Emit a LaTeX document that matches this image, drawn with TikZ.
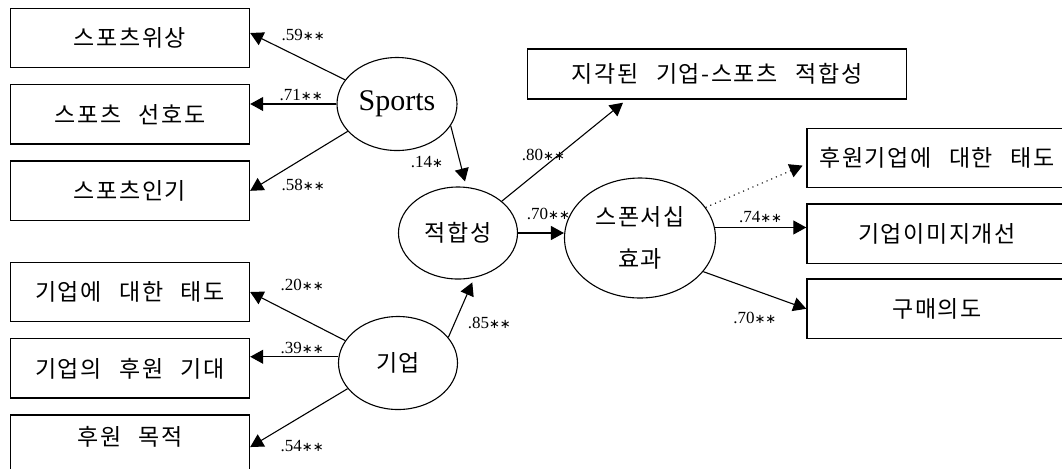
\documentclass[tikz,border=0pt]{standalone}
\usepackage{fontspec}
\setmainfont{Liberation Serif}
\newfontfamily\kr[LetterSpace=7,WordSpace=2.6]{Noto Sans CJK KR}
\newfontfamily\symb{DejaVu Sans}
\newcommand{\sigtwo}{{\symb\fontsize{6.5}{8}\selectfont ∗∗}}
\newcommand{\sigone}{{\symb\fontsize{6.5}{8}\selectfont ∗}}
\usetikzlibrary{shapes.geometric, arrows.meta, positioning}

\begin{document}
\begin{tikzpicture}[x=0.5pt, y=-0.5pt,
  measure/.style={draw, line width=0.7pt, minimum width=119.5pt, minimum height=29.75pt,
    inner sep=0pt, align=center, font=\kr\fontsize{11.5}{13}\selectfont},
  factor/.style={draw, ellipse, line width=0.55pt, inner sep=0pt, align=center,
    font=\kr\fontsize{11.5}{21}\selectfont},
  arrow/.style={-{Triangle[length=6.5pt, width=7pt]}, line width=0.55pt},
  coef/.style={font=\fontsize{8.5}{10}\selectfont, inner sep=0pt}
]
\useasboundingbox (0,0) rectangle (1062,468);

% indicators, left side
\node[measure] (status) at (130,38) {스포츠위상};
\node[measure, below=7.75pt of status] (pref) {스포츠 선호도};
\node[measure, below=7.75pt of pref] (popular) {스포츠인기};
\node[measure] (attit) at (130,292) {기업에 대한 태도};
\node[measure, below=7.75pt of attit] (expect) {기업의 후원 기대};
\node[measure, below=7.75pt of expect, minimum height=0pt, text height=15pt,
  text depth=17pt] (aim) {후원 목적};

% latent factors
\node[factor, minimum width=60pt, minimum height=46.5pt,
  font=\fontsize{15}{18}\selectfont] (sports) at (397,104) {Sports};
\node[factor, minimum width=59.5pt, minimum height=46pt] (congru) at (458,233) {적합성};
\node[factor, minimum width=59.5pt, minimum height=46.5pt] (corp) at (398,363) {기업};
\node[factor, minimum width=75.5pt, minimum height=60pt] (effect) at (640,238) {스폰서십\\효과};

% outcomes, right side
\node[measure, minimum width=189.5pt, minimum height=25pt] (percfit) at (717,74) {지각된 기업-스포츠 적합성};
\node[measure, minimum width=130pt] (attsp) at (937,158) {후원기업에 대한 태도};
\node[measure, minimum width=130pt, below=7.5pt of attsp] (image) {기업이미지개선};
\node[measure, minimum width=130pt, below=7pt of image] (buy) {구매의도};

\draw[arrow] (sports.155) -- ([yshift=2.5pt]status.east)
  node[coef, at end, xshift=26.5pt, yshift=-1pt] {.59\sigtwo};
\draw[arrow] (sports.west) -- (sports.west -| pref.east)
  node[coef, at end, xshift=25.5pt, yshift=4.5pt] {.71\sigtwo};
\draw[arrow] (sports.209) -- (popular.east)
  node[coef, at end, xshift=26.5pt, yshift=2.9pt] {.58\sigtwo};
\draw[arrow] (sports.-22) -- ([xshift=3.5pt, yshift=2.5pt]congru.north)
  node[coef, at end, xshift=-19pt, yshift=9.5pt] {.14\sigone};

\draw[arrow] (corp.157) -- (attit.east)
  node[coef, at end, xshift=26pt, yshift=3.4pt] {.20\sigtwo};
\draw[arrow] (corp.174) -- (corp.174 -| expect.east)
  node[coef, at end, xshift=26pt, yshift=4.5pt] {.39\sigtwo};
\draw[arrow] (corp.207) -- (aim.east)
  node[coef, at end, xshift=26pt, yshift=0.5pt] {.54\sigtwo};
\draw[arrow, shorten >=2.5pt] (corp.27) -- (congru.-70)
  node[coef, midway, xshift=14pt, yshift=-7.5pt] {.85\sigtwo};

\draw[arrow] (congru.36) -- ([xshift=-47pt, yshift=-1.5pt]percfit.south)
  node[coef, midway, xshift=-9.5pt, yshift=-1.5pt] {.80\sigtwo};
\draw[arrow] (congru.east) -- (congru.east -| effect.west)
  node[coef, midway, xshift=3.75pt, yshift=9.5pt] {.70\sigtwo};

\draw[arrow, dotted, shorten >=2pt] (effect.25) -- ([yshift=-3pt]attsp.west);
\draw[arrow] (effect.8) -- (effect.8 -| image.west)
  node[coef, midway, yshift=5.25pt] {.74\sigtwo};
\draw[arrow] (effect.-28) -- (buy.west)
  node[coef, midway, yshift=-14pt] {.70\sigtwo};
\end{tikzpicture}
\end{document}
